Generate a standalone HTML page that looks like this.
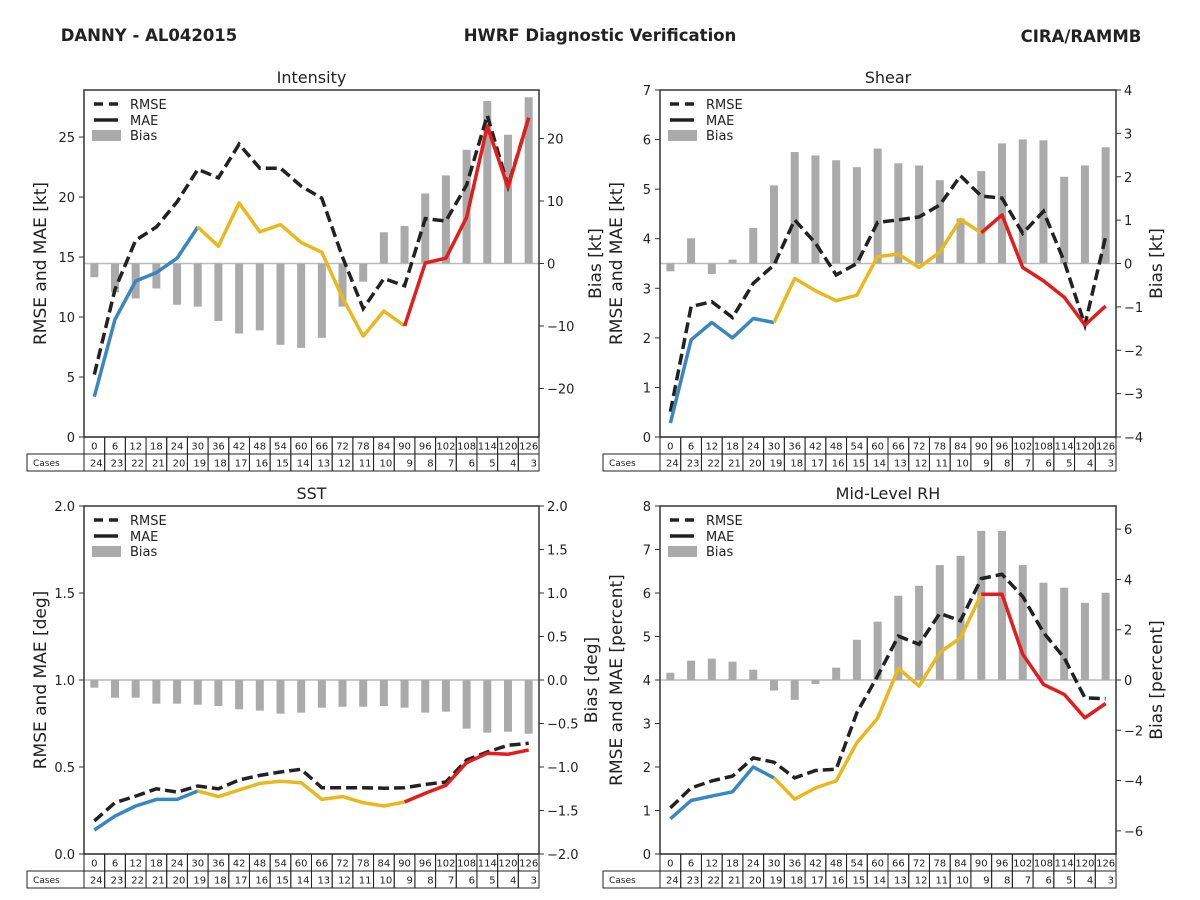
<!DOCTYPE html>
<html><head><meta charset="utf-8">
<style>
html,body{margin:0;padding:0;background:#fff;}
svg{display:block;font-family:"DejaVu Sans","Liberation Sans",sans-serif;}
</style></head>
<body>
<svg id="fig" width="1200" height="900" viewBox="0 0 1200 900">
<text x="149" y="41" text-anchor="middle" font-size="16.5" font-weight="bold" fill="#222">DANNY - AL042015</text>
<text x="600" y="41" text-anchor="middle" font-size="16.5" font-weight="bold" fill="#222">HWRF Diagnostic Verification</text>
<text x="1081" y="42" text-anchor="middle" font-size="16.5" font-weight="bold" fill="#222">CIRA/RAMMB</text>
</svg>
<script>
const leads = [0,6,12,18,24,30,36,42,48,54,60,66,72,78,84,90,96,102,108,114,120,126];
const cases = [24,23,22,21,20,19,18,17,16,15,14,13,12,11,10,9,8,7,6,5,4,3];

const intRmse = [5.2,12.3,16.4,17.5,19.6,22.3,21.6,24.4,22.4,22.4,20.9,19.9,15.0,10.7,13.2,12.6,18.2,18.0,21.0,26.8,20.9,26.6];
const intMae = [3.36,9.8,13.0,13.7,14.9,17.5,15.9,19.5,17.1,17.7,16.2,15.4,11.6,8.4,10.5,9.25,14.5,14.9,18.3,25.9,20.8,26.6];
const intBias = [-2.2,-4.6,-5.6,-4.0,-6.6,-6.9,-9.2,-11.2,-10.7,-13.0,-13.5,-11.9,-6.9,-2.9,5.0,6.0,11.2,14.1,18.2,26.0,20.6,26.6];

const shrRmse = [0.51,2.63,2.73,2.41,3.1,3.47,4.38,3.91,3.27,3.5,4.33,4.38,4.44,4.68,5.27,4.86,4.82,4.11,4.55,3.54,2.26,4.04];
const shrMae = [0.28,1.96,2.31,2.0,2.39,2.31,3.2,2.95,2.75,2.86,3.64,3.69,3.42,3.73,4.39,4.12,4.48,3.42,3.15,2.82,2.26,2.64];
const shrBias = [-0.18,0.58,-0.24,0.09,0.82,1.8,2.57,2.49,2.38,2.22,2.65,2.31,2.26,1.92,1.04,2.13,2.77,2.86,2.84,2.0,2.26,2.68];

const sstRmse = [0.19,0.295,0.333,0.375,0.356,0.391,0.375,0.425,0.452,0.471,0.487,0.381,0.381,0.381,0.378,0.381,0.40,0.414,0.54,0.586,0.625,0.636];
const sstMae = [0.138,0.218,0.276,0.314,0.314,0.362,0.33,0.368,0.406,0.418,0.41,0.314,0.33,0.295,0.276,0.299,0.349,0.395,0.525,0.579,0.573,0.598];
const sstBias = [-0.088,-0.203,-0.203,-0.272,-0.272,-0.284,-0.299,-0.337,-0.352,-0.387,-0.375,-0.318,-0.307,-0.307,-0.299,-0.318,-0.375,-0.364,-0.559,-0.605,-0.594,-0.617];

const rhRmse = [1.06,1.52,1.68,1.79,2.21,2.11,1.75,1.92,1.95,3.25,4.09,5.01,4.82,5.53,5.36,6.33,6.43,5.92,5.09,4.51,3.59,3.57];
const rhMae = [0.81,1.23,1.33,1.43,2.0,1.75,1.26,1.52,1.68,2.56,3.12,4.27,3.86,4.63,4.97,5.97,5.97,4.59,3.9,3.67,3.13,3.46];
const rhBias = [0.29,0.77,0.85,0.73,0.41,-0.42,-0.79,-0.16,0.49,1.6,2.32,3.35,3.75,4.57,4.94,5.93,5.93,4.57,3.87,3.67,3.07,3.47];

const intLeftTicks = [0,5,10,15,20,25];
const intRightTicks = [-20,-10,0,10,20];
const shrLeftTicks = [0,1,2,3,4,5,6,7];
const shrRightTicks = [-4,-3,-2,-1,0,1,2,3,4];
const sstLeftTicks = ["0.0","0.5","1.0","1.5","2.0"];
const sstRightTicks = ["-2.0","-1.5","-1.0","-0.5","0.0","0.5","1.0","1.5","2.0"];
const rhLeftTicks = [0,1,2,3,4,5,6,7,8];
const rhRightTicks = [-6,-4,-2,0,2,4,6];

const NS = "http://www.w3.org/2000/svg";
const svg = document.getElementById('fig');
function mk(tag, attrs, parent){
  const e = document.createElementNS(NS, tag);
  for (const k in attrs) e.setAttribute(k, attrs[k]);
  (parent||svg).appendChild(e);
  return e;
}
function drawPanel(c){
  const g = mk('g', {});
  
  
  const n = leads.length;
  const cw = (c.x1 - c.x0) / n;
  const xs = i => c.x0 + cw * (i + 0.5);
  const yl = v => c.y1 - (v - c.lmin) / (c.lmax - c.lmin) * (c.y1 - c.y0);
  const yr = v => c.y1 - (v - c.rmin) / (c.rmax - c.rmin) * (c.y1 - c.y0);
  const t = mk('text', {x:(c.x0+c.x1)/2, y:c.y0-7, 'text-anchor':'middle','font-size':16, fill:'#222'}, g);
  t.textContent = c.title;
  
  
  const z = mk('line', {x1:c.x0, x2:c.x1, y1:yr(0), y2:yr(0), stroke:'#bbb','stroke-width':1.5}, g);
  
  
  c.bias.forEach((b, i) => {
    const y0 = yr(0), y = yr(b);
    const r = mk('rect', {x:xs(i)-4, y:Math.min(y0,y), width:8, height:Math.abs(y-y0), fill:'#aaa'}, g);
    
    
  });
  const rp = c.rmse.map((v,i)=>xs(i).toFixed(1)+','+yl(v).toFixed(1)).join(' ');
  const rl = mk('polyline', {points:rp, fill:'none', stroke:'#222','stroke-width':3.5,'stroke-dasharray':'11,5'}, g);
  
  
  const segs = [[0,5,'#3a87c0'],[5,15,'#e9b81c'],[15,21,'#e31d1e']];
  segs.forEach(s => {
    const pts = [];
    for (let i=s[0]; i<=s[1]; i++) pts.push(xs(i).toFixed(1)+','+yl(c.mae[i]).toFixed(1));
    const ml = mk('polyline', {points:pts.join(' '), fill:'none', stroke:s[2],'stroke-width':3.5,'stroke-linejoin':'round'}, g);
    
    
  });
  const fr = mk('rect', {x:c.x0, y:c.y0, width:c.x1-c.x0, height:c.y1-c.y0, fill:'none', stroke:'#333','stroke-width':1.5}, g);
  
  
  c.lt.forEach(tk => {
    const y = yl(parseFloat(tk));
    mk('line', {x1:c.x0-5, x2:c.x0, y1:y, y2:y, stroke:'#333','stroke-width':1}, g);
    const tx = mk('text', {x:c.x0-9, y:y+5, 'text-anchor':'end','font-size':13, fill:'#222'}, g);
    tx.textContent = tk;
    
    
  });
  c.rt.forEach(tk => {
    const y = yr(parseFloat(tk));
    mk('line', {x1:c.x1, x2:c.x1+5, y1:y, y2:y, stroke:'#333','stroke-width':1}, g);
    const tx = mk('text', {x:c.x1+8, y:y+5, 'font-size':13, fill:'#222'}, g);
    tx.textContent = tk.toString().replace('-', '\u2212');
    
    
  });
  const cy = (c.y0+c.y1)/2;
  const la = mk('text', {x:0, y:0, transform:`translate(${c.x0-38},${cy}) rotate(-90)`, 'text-anchor':'middle','font-size':17, fill:'#222'}, g);
  la.textContent = c.ylab;
  
  
  const ra = mk('text', {x:0, y:0, transform:`translate(${c.x1+c.roff},${cy}) rotate(-90)`, 'text-anchor':'middle','font-size':17, fill:'#222'}, g);
  ra.textContent = c.rlab;
  
  
  const lx = c.x0 + 10, ly = c.y0 + 14;
  mk('line', {x1:lx, x2:lx+24, y1:ly, y2:ly, stroke:'#222','stroke-width':3.5,'stroke-dasharray':'9,6'}, g);
  mk('line', {x1:lx, x2:lx+24, y1:ly+16, y2:ly+16, stroke:'#222','stroke-width':3.5}, g);
  mk('rect', {x:lx-2, y:ly+26, width:29, height:11, fill:'#aaa'}, g);
  [['RMSE',0],['MAE',16],['Bias',31]].forEach(a => {
    const lt = mk('text', {x:lx+36, y:ly+a[1]+5, 'font-size':13, fill:'#222'}, g);
    lt.textContent = a[0];
    
    
  });
  const ty = c.y1, rh = 17, cx0 = c.x0 - 57;
  mk('rect', {x:cx0, y:ty+rh, width:57, height:rh, fill:'none', stroke:'#222','stroke-width':1}, g);
  const cl = mk('text', {x:cx0+6, y:ty+rh+12, 'font-size':9, fill:'#222'}, g);
  cl.textContent = 'Cases';
  
  
  leads.forEach((ld, i) => {
    const x = c.x0 + cw*i;
    mk('rect', {x:x, y:ty, width:cw, height:rh, fill:'none', stroke:'#222','stroke-width':1}, g);
    mk('rect', {x:x, y:ty+rh, width:cw, height:rh, fill:'none', stroke:'#222','stroke-width':1}, g);
    const a = mk('text', {x:x+cw/2, y:ty+12.5, 'text-anchor':'middle','font-size':10, fill:'#222'}, g);
    a.textContent = ld;
    
    
    const b = mk('text', {x:x+cw-2, y:ty+rh+12.5, 'text-anchor':'end','font-size':10, fill:'#222'}, g);
    b.textContent = cases[i];
    
    
  });
}
drawPanel({name:'intensity', title:'Intensity', x0:84, x1:539, y0:90, y1:437, lmin:0, lmax:28.92, rmin:-27.76, rmax:27.76, lt:intLeftTicks, rt:intRightTicks, rmse:intRmse, mae:intMae, bias:intBias, ylab:'RMSE and MAE [kt]', rlab:'Bias [kt]', roff:62});
drawPanel({name:'shear', title:'Shear', x0:660, x1:1116, y0:90, y1:437, lmin:0, lmax:7, rmin:-4, rmax:4, lt:shrLeftTicks, rt:shrRightTicks, rmse:shrRmse, mae:shrMae, bias:shrBias, ylab:'RMSE and MAE [kt]', rlab:'Bias [kt]', roff:46});
drawPanel({name:'sst', title:'SST', x0:84, x1:539, y0:506, y1:854, lmin:0, lmax:2, rmin:-2, rmax:2, lt:sstLeftTicks, rt:sstRightTicks, rmse:sstRmse, mae:sstMae, bias:sstBias, ylab:'RMSE and MAE [deg]', rlab:'Bias [deg]', roff:58});
drawPanel({name:'mid-level-rh', title:'Mid-Level RH', x0:660, x1:1116, y0:506, y1:854, lmin:0, lmax:8, rmin:-6.92, rmax:6.92, lt:rhLeftTicks, rt:rhRightTicks, rmse:rhRmse, mae:rhMae, bias:rhBias, ylab:'RMSE and MAE [percent]', rlab:'Bias [percent]', roff:46});
</script>
</body></html>
